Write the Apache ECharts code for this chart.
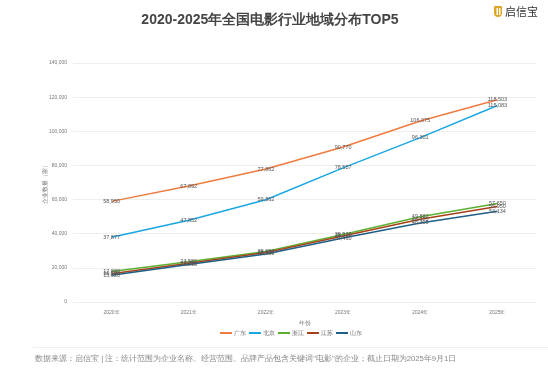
<!DOCTYPE html>
<html><head><meta charset="utf-8">
<script src="https://cdn.jsdelivr.net/npm/echarts@6/dist/echarts.min.js"></script>
<style>html,body{margin:0;padding:0;background:#fff}#c{width:548px;height:386px}</style>
</head><body><div id="c"></div>
<script>
var categories = ['2020年','2021年','2022年','2023年','2024年','2025年'];
var seriesNames = ['广东','北京','浙江','江苏','山东'];
var guangdong = [58950, 67892, 77862, 90770, 106075, 118503];
var beijing = [37877, 47852, 59862, 78557, 96301, 115083];
var zhejiang = [17880, 23580, 29650, 39520, 49880, 57650];
var jiangsu = [16580, 22760, 28960, 38720, 48470, 55950];
var shandong = [15620, 22010, 28130, 37460, 46305, 53134];
var yTicks = {min: 0, max: 140000, interval: 20000};
var colors = ['#f07b3f','#1aa6e3','#5bb02f','#a8401a','#1d5f86'];
var dataList = [guangdong, beijing, zhejiang, jiangsu, shandong];

var chart = echarts.init(document.getElementById('c'));
var font = 'Liberation Sans, Arial, sans-serif';
chart.setOption({
  animation: false,
  color: colors,
  title: {text: '2020-2025年全国电影行业地域分布TOP5', left: 265, top: 8, textAlign: 'center',
    textStyle: {fontSize: 14, fontWeight: 'bold', color: '#444', fontFamily: font}},
  legend: {data: seriesNames, left: 215, top: 325, itemWidth: 12, itemHeight: 2, itemGap: 3,
    icon: 'rect', textStyle: {fontSize: 5.5, color: '#666', fontFamily: font, padding: [0,0,0,-3]}},
  grid: {left: 73, right: 12, top: 63, bottom: 84},
  xAxis: {type: 'category', data: categories, boundaryGap: true, name: '年份', nameLocation: 'middle', nameGap: 9,
    nameTextStyle: {fontSize: 6, color: '#777'},
    axisLine: {show: false}, axisTick: {show: false},
    axisLabel: {fontSize: 5, color: '#777', margin: 8}},
  yAxis: {type: 'value', min: yTicks.min, max: yTicks.max, interval: yTicks.interval,
    name: '企业数量（家）', nameLocation: 'middle', nameGap: 25, nameRotate: 90, nameMoveOverlap: false,
    nameTextStyle: {fontSize: 6, color: '#777'},
    axisLabel: {fontSize: 5, color: '#777', margin: 6, formatter: function(v){return v.toLocaleString('en-US');}},
    splitLine: {lineStyle: {color: '#eeeeee', width: 1}}},
  series: dataList.map(function(d, i){
    return {name: seriesNames[i], type: 'line', data: d, smooth: false, symbol: 'circle', symbolSize: 0.01,
      showSymbol: true,
      lineStyle: {width: 1.5, color: colors[i]},
      label: {show: true, position: 'inside', fontSize: 5.5, color: '#555',
        formatter: function(p){return p.value.toLocaleString('en-US');}}};
  }),
  graphic: [
    {type: 'rect', shape: {x: 33, y: 347, width: 515, height: 1}, style: {fill: '#eeeeee'}},
    {type: 'text', left: 35, top: 355, style: {text: '数据来源：启信宝 | 注：统计范围为企业名称、经营范围、品牌产品包含关键词"电影"的企业；截止日期为2025年9月1日',
      fontSize: 7.7, fill: '#888', fontFamily: font}},
    {type: 'rect', shape: {x: 494, y: 6, width: 8, height: 11, r: [1,1,4,4]}, style: {fill: '#e0a526'}},
    {type: 'rect', shape: {x: 496.5, y: 8, width: 1.5, height: 7}, style: {fill: '#fff'}},
    {type: 'rect', shape: {x: 499, y: 8, width: 1.5, height: 7}, style: {fill: '#fff'}},
    {type: 'text', left: 505, top: 6, style: {text: '启信宝', fontSize: 11, fill: '#333', fontFamily: 'Noto Sans CJK SC'}}
  ]
});
</script></body></html>
